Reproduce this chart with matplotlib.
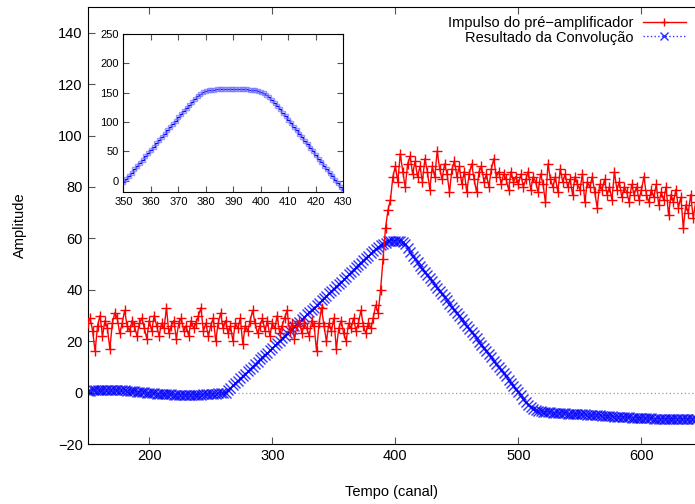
import matplotlib
matplotlib.use("Agg")
import matplotlib.pyplot as plt
import numpy as np

plt.rcParams["font.family"] = ["Liberation Sans", "DejaVu Sans"]

# canais (passo 2) do sinal principal
canal_ini = 150
passo = 2

# Impulso do pre-amplificador (150..644)
impulso = [
    27, 29, 24, 16, 26, 30, 22, 28, 25, 17,
    27, 31, 29, 23, 27, 32, 26, 24, 28, 26,
    22, 27, 29, 25, 21, 28, 24, 30, 26, 22,
    27, 25, 33, 23, 26, 28, 21, 27, 29, 24,
    26, 22, 28, 25, 27, 30, 33, 24, 27, 22,
    26, 29, 20, 27, 31, 25, 28, 23, 26, 20,
    27, 25, 29, 19, 26, 24, 28, 32, 27, 23,
    26, 29, 24, 28, 22, 27, 25, 30, 23, 26,
    29, 32, 24, 27, 21, 26, 28, 23, 27, 25,
    22, 28, 26, 16, 27, 33, 26, 20, 27, 24,
    29, 17, 25, 28, 23, 20, 27, 25, 29, 24,
    27, 32, 26, 23, 27, 25, 29, 34, 31, 40,
    52, 64, 71, 75, 84, 88, 82, 93, 86, 80,
    89, 92, 85, 90, 84, 88, 82, 91, 86, 79,
    88, 84, 94, 87, 83, 89, 85, 78, 87, 90,
    84, 88, 81, 86, 78, 85, 89, 83, 78, 86,
    88, 82, 85, 80, 87, 91, 84, 86, 81, 85,
    83, 79, 86, 82, 84, 81, 85, 80, 83, 86,
    79, 84, 82, 78, 85, 81, 74, 89, 83, 80,
    84, 78, 87, 82, 85, 80, 83, 77, 84, 81,
    79, 85, 74, 82, 80, 84, 78, 72, 81, 79,
    83, 77, 80, 75, 86, 79, 82, 76, 80, 78,
    74, 81, 77, 80, 75, 79, 84, 77, 74, 79,
    76, 81, 73, 78, 75, 80, 69, 77, 74, 79,
    72, 76, 64, 73, 70, 77, 68, 74,
]

# Resultado da convolucao (150..644)
convolucao = [
    0.8, 0.8, 0.9, 0.9, 0.9, 1.0, 1.0, 1.0, 1.0, 1.0,
    1.0, 1.0, 1.0, 1.0, 0.9, 0.9, 0.8, 0.7, 0.6, 0.5,
    0.4, 0.3, 0.2, 0.1, 0.0, -0.1, -0.2, -0.3, -0.4, -0.5,
    -0.5, -0.6, -0.6, -0.7, -0.7, -0.8, -0.8, -0.8, -0.9, -0.9,
    -0.9, -0.9, -0.9, -0.9, -0.9, -0.8, -0.8, -0.7, -0.7, -0.6,
    -0.6, -0.5, -0.4, -0.3, -0.2, -0.1, 0.0, 0.9, 1.9, 2.8,
    3.7, 4.6, 5.5, 6.4, 7.4, 8.3, 9.2, 10.1, 11.0, 12.0,
    12.9, 13.8, 14.7, 15.6, 16.6, 17.5, 18.4, 19.3, 20.2, 21.2,
    22.1, 23.0, 23.9, 24.8, 25.8, 26.7, 27.6, 28.5, 29.4, 30.4,
    31.3, 32.2, 33.1, 34.0, 35.0, 35.9, 36.8, 37.7, 38.6, 39.6,
    40.5, 41.4, 42.3, 43.2, 44.2, 45.1, 46.0, 46.9, 47.8, 48.8,
    49.7, 50.6, 51.5, 52.4, 53.3, 54.2, 55.0, 55.8, 56.6, 57.3,
    57.9, 58.4, 58.8, 59.0, 59.1, 59.1, 59.1, 59.0, 58.6, 57.8,
    56.4, 54.7, 53.2, 51.9, 50.7, 49.4, 48.2, 47.0, 45.7, 44.5,
    43.3, 42.0, 40.8, 39.6, 38.3, 37.1, 35.9, 34.6, 33.4, 32.2,
    30.9, 29.7, 28.5, 27.2, 26.0, 24.8, 23.5, 22.3, 21.1, 19.8,
    18.6, 17.4, 16.1, 14.9, 13.7, 12.4, 11.2, 10.0, 8.7, 7.5,
    6.3, 5.0, 3.8, 2.6, 1.3, 0.1, -1.1, -2.4, -3.6, -4.7,
    -5.6, -6.3, -6.8, -7.1, -7.3, -7.4, -7.5, -7.6, -7.7, -7.8,
    -7.8, -7.9, -8.0, -8.0, -8.1, -8.2, -8.2, -8.3, -8.3, -8.4,
    -8.4, -8.5, -8.5, -8.6, -8.7, -8.7, -8.8, -8.8, -8.9, -9.0,
    -9.0, -9.1, -9.1, -9.2, -9.3, -9.3, -9.4, -9.4, -9.5, -9.6,
    -9.6, -9.7, -9.7, -9.8, -9.8, -9.9, -9.9, -10.0, -10.0, -10.0,
    -10.1, -10.1, -10.1, -10.1, -10.2, -10.2, -10.2, -10.2, -10.2, -10.2,
    -10.3, -10.3, -10.3, -10.3, -10.3, -10.3, -10.3, -10.3,
]

# detalhe (inset), canais 350..430
inset_ini = 350
inset_vals = [
    -2, 3, 9, 14, 20, 25, 31, 36, 42, 47,
    53, 58, 64, 69, 75, 80, 86, 91, 97, 102,
    108, 113, 119, 124, 130, 135, 140, 144, 148, 151,
    153, 154, 155, 155, 156, 156, 156, 157, 157, 157,
    156, 156, 156, 156, 156, 156, 155, 155, 154, 153,
    151, 149, 146, 142, 138, 133, 128, 122, 116, 110,
    104, 98, 92, 86, 80, 74, 68, 62, 56, 50,
    44, 38, 32, 26, 20, 14, 8, 2, -4, -10,
    -16,
]

x = canal_ini + passo * np.arange(len(impulso))
x_inset = inset_ini + np.arange(len(inset_vals))

fig = plt.figure(figsize=(6.95, 5.04), dpi=100)
ax = fig.add_axes([0.1262, 0.119, 0.8738, 0.867])

ax.axhline(0, color="#999999", lw=0.9, ls=(0, (1, 2)), zorder=1)
ax.plot(x, impulso, color="red", lw=1, marker="+", ms=7, mew=1,
        label="Impulso do pré\u2212amplificador", zorder=3)
ax.plot(x, convolucao, color="blue", lw=1, ls=":", marker="x", ms=7,
        mew=1, alpha=0.8, label="Resultado da Convolução", zorder=2)

ax.set_xlim(150, 643.5)
ax.set_ylim(-20, 150)
ax.set_xticks([200, 300, 400, 500, 600])
ax.set_yticks(range(-20, 141, 20))
ax.tick_params(direction="in", length=5, top=True, right=False,
               labelsize=10.5, color="#555555")
ax.spines["right"].set_visible(False)
ax.set_xlabel("Tempo (canal)", fontsize=10.5, labelpad=16)
ax.set_ylabel("Amplitude", fontsize=10.5, labelpad=22)

leg = ax.legend(loc="upper right", frameon=False, markerfirst=False,
                fontsize=10.5, handlelength=3.0, borderaxespad=0.2,
                labelspacing=0.05, handletextpad=0.6, markerscale=0.8)
for t in leg.get_texts():
    t.set_ha("right")

ins = fig.add_axes([0.1775, 0.619, 0.3165, 0.3135])
ins.plot(x_inset, inset_vals, color="blue", lw=1, drawstyle="steps-mid")
ins.plot(x_inset, inset_vals, ls="none", marker="s", ms=3.5,
         mfc="none", mec="#6f6fff", mew=1, alpha=0.7)
ins.set_xlim(350, 430)
ins.set_ylim(-19, 250)
ins.set_xticks(range(350, 431, 10))
ins.set_yticks(range(0, 251, 50))
ins.tick_params(direction="in", length=4, top=True, right=True,
                labelsize=8, color="#555555")

fig.savefig("out.png", dpi=100)
